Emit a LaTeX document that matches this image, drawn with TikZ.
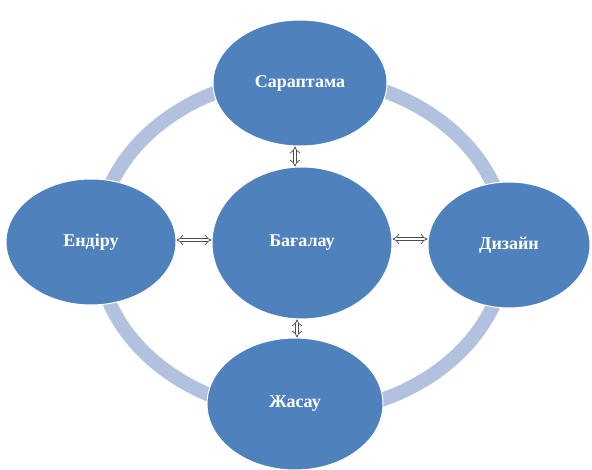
\documentclass[tikz,border=0pt]{standalone}
\usepackage{fontspec}
\setmainfont{Liberation Serif}
\usepackage{xcolor}
\usetikzlibrary{arrows.meta, shapes.geometric}

\definecolor{stageblue}{RGB}{79,129,189}
\definecolor{ringblue}{RGB}{178,194,222}

\begin{document}
\begin{tikzpicture}[x=1pt, y=-1pt,
    stage/.style={ellipse, draw=white, line width=1pt, fill=stageblue,
        text=white, font=\fontsize{18}{20}\selectfont\bfseries, inner sep=0pt},
    link/.style={double=white, draw=black!70, line width=0.7pt,
        double distance=2.8pt, {Implies[scale=0.8]}-{Implies[scale=0.8]}}]
    \useasboundingbox (0,0) rectangle (592,470);

    % Ring
    \draw[ringblue, line width=14pt] (302,245) ellipse [x radius=205pt, y radius=168pt];

    % Stages
    \node[stage, minimum width=174pt, minimum height=126pt] (sarap) at (300,83) {Сараптама};
    \node[stage, minimum width=180pt, minimum height=152pt] (bagalau) at (302,243) {Бағалау};
    \node[stage, minimum width=170pt, minimum height=126pt] (endiru) at (91,242) {Ендіру};
    \node[stage, minimum width=162pt, minimum height=126pt] (dizain) at (509,245) {Дизайн};
    \node[stage, minimum width=176pt, minimum height=132pt] (zhasau) at (295,404) {Жасау};

    % Links
    \draw[link] ([xshift=-5pt]sarap.south) -- ([xshift=-7pt]bagalau.north);
    \draw[link] ([xshift=-5pt]bagalau.south) -- ([xshift=2pt]zhasau.north);
    \draw[link] ([yshift=2pt]endiru.east) -- ([yshift=3pt]bagalau.west);
    \draw[link] ([yshift=4pt]bagalau.east) -- ([yshift=6pt]dizain.west);
\end{tikzpicture}
\end{document}
